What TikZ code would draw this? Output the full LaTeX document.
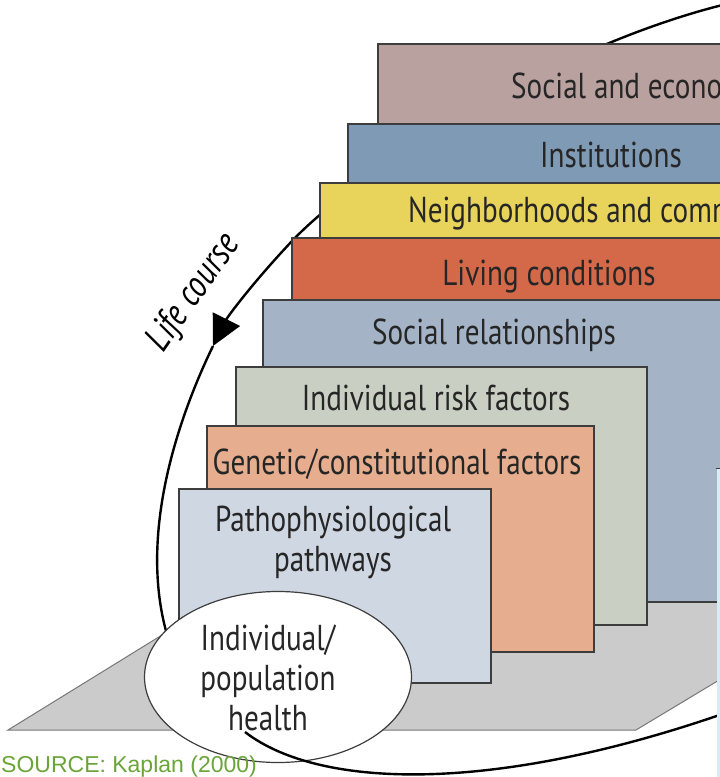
\documentclass[tikz,border=0pt]{standalone}
\usepackage{fontspec}
\setmainfont{PT Sans}[FakeStretch=0.81]
\newfontfamily\sourcefont{Liberation Sans}
\usetikzlibrary{positioning, arrows.meta, shapes.geometric}

\definecolor{econ}{HTML}{B9A19F}
\definecolor{inst}{HTML}{7E9AB5}
\definecolor{neigh}{HTML}{E9D45B}
\definecolor{living}{HTML}{D4694A}
\definecolor{socrel}{HTML}{A4B4C6}
\definecolor{risk}{HTML}{C9D0C3}
\definecolor{genetic}{HTML}{E6AE8E}
\definecolor{patho}{HTML}{CFD8E2}
\definecolor{floorgray}{HTML}{CBCBCB}
\definecolor{edgegray}{HTML}{3D3D3D}
\definecolor{labeltext}{HTML}{262626}
\definecolor{sourcegreen}{HTML}{6BA539}
\definecolor{stripblue}{HTML}{D6ECF7}

\tikzset{
    level/.style={draw=edgegray, line width=1.4pt},
    levellabel/.style={font=\fontsize{36}{40}\selectfont, text=labeltext, inner sep=0pt, align=center},
    lifeline/.style={line width=2.4pt, black},
    floorplate/.style={fill=floorgray, draw=edgegray!70, line width=1pt}
}

\begin{document}
\begin{tikzpicture}[x=1pt, y=-1pt]
    \useasboundingbox (0,0) rectangle (720,777);
    \clip (0,0) rectangle (720,777);

    % points on the life course
    \coordinate (lc1) at (735,2);
    \coordinate (lc2) at (293,240);
    \coordinate (lc3) at (213,346);
    \coordinate (lc4) at (172,650);
    \coordinate (lc5) at (245,732);
    \coordinate (lc6) at (745,706);

    % floor
    \draw[floorplate] (8,730) -- (636,730) -- (869,590) -- (235,590) -- cycle;

    % life course, upper part
    \draw[lifeline] (lc1) .. controls (560,42) and (360,170) .. (lc2);
    \draw[lifeline, -{Triangle[length=30pt, width=30pt]}] (lc2) .. controls (255,280) and (228,316) .. (lc3);
    \draw[lifeline] (lc3) .. controls (182,410) and (132,540) .. (lc4);

    % levels, back to front
    \foreach \name/\l/\t/\r/\b in {
        econ/378/44/740/124,
        inst/348/124/740/183,
        neigh/320/183/740/238,
        living/292/238/740/300,
        socrel/263/300/740/602,
        risk/236/367/647/625,
        genetic/207/426/594/652,
        patho/179/489/491/683}
    {
        \draw[level, fill=\name] (\l,\t) rectangle (\r,\b);
    }

    % labels
    \foreach \name/\x/\y/\anc/\txt in {
        econ/511/98/base west/{Social and economic policies},
        inst/611/167/base/{Institutions},
        neigh/408/222/base west/{Neighborhoods and communities},
        living/549/285/base/{Living conditions},
        socrel/494/344/base/{Social relationships},
        risk/436/410/base/{Individual risk factors},
        genetic/397/474/base/{Genetic/constitutional factors}}
    {
        \node[levellabel, anchor=\anc] (\name label) at (\x,\y) {\txt};
    }
    \node[levellabel] (patholabel) at (333,542) {Pathophysiological\\pathways};

    % outcome
    \node[ellipse, draw=edgegray, fill=white, line width=1.2pt,
          minimum width=267pt, minimum height=171pt, inner sep=0pt] (health) at (278,677) {};
    \node[levellabel] (healthlabel) at (268,678) {Individual/\\population\\health};

    % life course, lower part
    \draw[lifeline] (lc5) .. controls (320,790) and (500,795) .. (lc6);

    \node[font=\itshape\fontsize{38}{40}\selectfont, rotate=55, inner sep=0pt] (lifecourse) at (194,293) {Life course};

    % source
    \node[font=\sourcefont\fontsize{23}{25}\selectfont, text=sourcegreen, anchor=base west, inner sep=0pt] (source) at (1,772) {SOURCE: Kaplan (2000)};

    % strip at the right edge
    \fill[stripblue] (717,468) rectangle (720,777);
    \draw[edgegray, line width=1pt] (716,468) -- (720,468);
\end{tikzpicture}
\end{document}
